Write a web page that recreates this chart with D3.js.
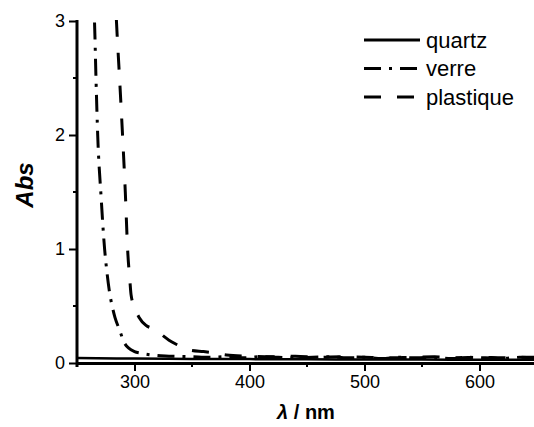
<!DOCTYPE html>
<html>
<head>
<meta charset="utf-8">
<script src="https://cdn.jsdelivr.net/npm/d3@7"></script>
<style>
  body { margin: 0; background: #fff; }
  svg { display: block; font-family: "Liberation Sans", Arial, sans-serif; }
</style>
</head>
<body>
<div id="chart"></div>
<script>
// values (wavelength in nm, absorbance)
var quartzX = [250, 300, 350, 400, 450, 500, 550, 600, 650];
var quartzY = [0.044, 0.039, 0.036, 0.034, 0.032, 0.031, 0.030, 0.029, 0.028];

var verreX = [263, 265.2, 266.5, 268, 271, 274, 276, 278, 281, 283, 287, 291, 295, 300, 306, 315, 330, 350, 365, 380, 395, 410, 425, 440, 455, 470, 485, 500, 515, 530, 545, 560, 575, 590, 605, 620, 635, 650];
var verreY = [3.3, 3.0, 2.5, 2.0, 1.45, 1.0, 0.8, 0.64, 0.48, 0.40, 0.29, 0.18, 0.13, 0.10, 0.085, 0.07, 0.06, 0.055, 0.05, 0.055, 0.045, 0.055, 0.05, 0.045, 0.05, 0.055, 0.045, 0.05, 0.04, 0.05, 0.045, 0.05, 0.04, 0.05, 0.045, 0.04, 0.05, 0.045];

var plastX = [283, 284.3, 287, 289.6, 292, 294, 296, 297, 300, 304, 310, 316, 322, 330, 337, 345, 350, 360, 368, 380, 400, 420, 440, 460, 480, 500, 520, 540, 560, 580, 600, 620, 640, 650];
var plastY = [3.3, 3.0, 2.5, 2.0, 1.5, 1.0, 0.72, 0.6, 0.49, 0.40, 0.33, 0.30, 0.26, 0.2, 0.16, 0.12, 0.11, 0.10, 0.09, 0.07, 0.06, 0.055, 0.06, 0.05, 0.055, 0.05, 0.045, 0.05, 0.055, 0.045, 0.05, 0.045, 0.05, 0.05];

var names = ["quartz", "verre", "plastique"];
var dashes = [null, "17,8,3,8", "17,16"];

var xTicks = [300, 400, 500, 600];
var xMinor = [250, 350, 450, 550, 650];
var yTicks = [0, 1, 2, 3];
var yMinor = [0.5, 1.5, 2.5];

var width = 534;
var height = 427;
var margin = { top: 21, left: 77, bottom: 64 };

var x = d3.scaleLinear().domain([250, 650]).range([margin.left, margin.left + 460]);
var y = d3.scaleLinear().domain([0, 3]).range([height - margin.bottom, margin.top]);

var svg = d3.select("#chart").append("svg")
  .attr("width", width)
  .attr("height", height);

svg.append("clipPath")
  .attr("id", "plot-clip")
  .append("rect")
  .attr("x", x(250))
  .attr("y", y(3) - 1)
  .attr("width", x(650) - x(250))
  .attr("height", y(0) - y(3) + 1);

var series = [
  { name: names[0], x: quartzX, y: quartzY, dash: dashes[0], w: 2.5 },
  { name: names[1], x: verreX, y: verreY, dash: dashes[1], w: 3 },
  { name: names[2], x: plastX, y: plastY, dash: dashes[2], w: 3 }
];

var line = d3.line()
  .x(function (d) { return x(d[0]); })
  .y(function (d) { return y(d[1]); })
  .curve(d3.curveMonotoneX);

svg.append("g")
  .attr("clip-path", "url(#plot-clip)")
  .selectAll("path")
  .data(series)
  .enter()
  .append("path")
  .attr("fill", "none")
  .attr("stroke", "#000")
  .attr("stroke-width", function (d) { return d.w; })
  .attr("stroke-dasharray", function (d) { return d.dash; })
  .attr("d", function (d) {
    return line(d.x.map(function (v, i) { return [v, d.y[i]]; }));
  });

// axes
var xAxis = svg.append("g")
  .attr("transform", "translate(0," + y(0) + ")")
  .call(d3.axisBottom(x).tickValues(xTicks).tickSize(8).tickPadding(4).tickSizeOuter(0));
xAxis.selectAll(".tick line").attr("stroke-width", 2).attr("stroke", "#000");
xAxis.select(".domain").attr("stroke-width", 3).attr("stroke", "#000");
xAxis.selectAll("text").attr("font-size", 18).attr("font-family", "Liberation Sans, Arial, sans-serif").attr("fill", "#000");

xAxis.selectAll(".minor")
  .data(xMinor)
  .enter()
  .append("line")
  .attr("class", "minor")
  .attr("x1", function (d) { return x(d); })
  .attr("x2", function (d) { return x(d); })
  .attr("y1", 0)
  .attr("y2", 4)
  .attr("stroke", "#000")
  .attr("stroke-width", 2);

var yAxis = svg.append("g")
  .attr("transform", "translate(" + x(250) + ",0)")
  .call(d3.axisLeft(y).tickValues(yTicks).tickFormat(d3.format("d")).tickSize(8).tickPadding(4).tickSizeOuter(0));
yAxis.selectAll(".tick line").attr("stroke-width", 2).attr("stroke", "#000");
yAxis.select(".domain").remove();
yAxis.append("line")
  .attr("x1", 0)
  .attr("x2", 0)
  .attr("y1", y(0) + 4)
  .attr("y2", y(3) - 1)
  .attr("stroke", "#000")
  .attr("stroke-width", 3);
yAxis.selectAll("text").attr("font-size", 18).attr("font-family", "Liberation Sans, Arial, sans-serif").attr("fill", "#000");

yAxis.selectAll(".minor")
  .data(yMinor)
  .enter()
  .append("line")
  .attr("class", "minor")
  .attr("x1", 0)
  .attr("x2", -4)
  .attr("y1", function (d) { return y(d); })
  .attr("y2", function (d) { return y(d); })
  .attr("stroke", "#000")
  .attr("stroke-width", 2);

// axis titles
var xTitle = svg.append("text")
  .attr("x", 306)
  .attr("y", 419)
  .attr("text-anchor", "middle")
  .attr("font-size", 20)
  .attr("font-weight", "bold");
xTitle.append("tspan").attr("font-style", "italic").text("λ");
xTitle.append("tspan").text(" / nm");

svg.append("text")
  .attr("transform", "translate(33," + 185 + ") rotate(-90)")
  .attr("text-anchor", "middle")
  .attr("font-size", 24)
  .attr("font-weight", "bold")
  .attr("font-style", "italic")
  .text("Abs");

// legend
var legend = svg.append("g")
  .selectAll("g")
  .data(series)
  .enter()
  .append("g")
  .attr("transform", function (d, i) { return "translate(364," + (40 + i * 28.5) + ")"; });

legend.append("line")
  .attr("x1", 0)
  .attr("x2", 56)
  .attr("stroke", "#000")
  .attr("stroke-width", 3)
  .attr("stroke-dasharray", function (d) { return d.dash; });

legend.append("text")
  .attr("x", 62)
  .attr("dy", "0.35em")
  .attr("font-size", 22)
  .text(function (d) { return d.name; });
</script>
</body>
</html>
